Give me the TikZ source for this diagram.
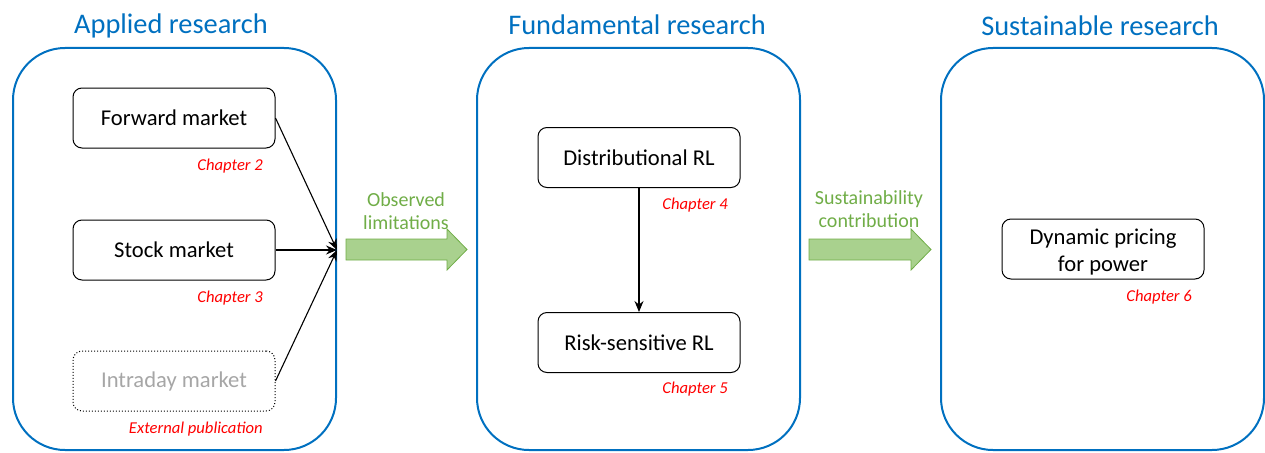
\documentclass[tikz,border=0pt]{standalone}
\usepackage{fontspec}
\setmainfont{Carlito}
\usetikzlibrary{arrows.meta}
\definecolor{panelblue}{HTML}{0070C0}
\definecolor{chapred}{HTML}{FF0000}
\definecolor{arrowfill}{HTML}{A9D18E}
\definecolor{arrowline}{HTML}{70AD47}
\definecolor{fadegray}{HTML}{A6A6A6}
\tikzset{
  panel/.style={draw=panelblue, line width=2pt, rounded corners=52pt,
    minimum width=323pt, minimum height=402pt, inner sep=0pt},
  paneltitle/.style={text=panelblue, font=\fontsize{28.4}{32}\selectfont, inner sep=0pt},
  topic/.style={draw=black, line width=1pt, rounded corners=9pt,
    minimum width=202pt, minimum height=60pt, inner sep=0pt, align=center,
    font=\fontsize{22.6}{27}\selectfont},
  faded/.style={topic, draw=black, dotted, text=fadegray},
  chapter/.style={text=chapred, font=\fontsize{16.6}{19}\selectfont\itshape,
    inner sep=0pt, anchor=east},
  flowlabel/.style={text=arrowline, font=\fontsize{20}{23}\selectfont,
    align=center, inner sep=0pt},
  bigarrow/.style={fill=arrowfill, draw=arrowline, line width=0.8pt},
  link/.style={draw=black, line width=1.1pt, -{Stealth[length=11pt,width=9pt]}}
}
\begin{document}
\begin{tikzpicture}[x=1pt,y=-1pt]
\useasboundingbox (0,0) rectangle (1265,452);

% three research panels
\node[panel] (applied) at (174.5,249) {};
\node[panel] (fund)    at (638.5,249) {};
\node[panel] (sust)    at (1102.5,249) {};
\node[paneltitle] (appliedT) at (171,26) {Applied research};
\node[paneltitle] (fundT)    at (637,25) {Fundamental research};
\node[paneltitle] (sustT)    at (1100,26) {Sustainable research};

% applied research topics
\node[topic] (fwd)   at (174,118) {Forward market};
\node[topic] (stock) at (174,250) {Stock market};
\node[faded] (intra) at (174,381) {Intraday market};
\node[chapter] (c2) at (263,166.5) {Chapter 2};
\node[chapter] (c3) at (263,298.5) {Chapter 3};
\node[chapter] (ext) at (263,429.5) {External publication};

\coordinate (join) at (337,250);
\draw[link] (fwd.east) -- (join);
\draw[link] (stock.east) -- (join);
\draw[link] (intra.east) -- (join);

% fundamental research topics
\node[topic] (dist) at (639,157.5) {Distributional RL};
\node[topic] (risk) at (639,342.5) {Risk-sensitive RL};
\node[chapter] (c4) at (728,205.5) {Chapter 4};
\node[chapter] (c5) at (728,389.5) {Chapter 5};
\draw[link] (dist) -- (risk);

% sustainable research topic
\node[topic] (dyn) at (1103,249)
  {\raisebox{-4pt}[\height][\depth]{\begin{tabular}{@{}c@{}}Dynamic pricing\\for power\end{tabular}}};
\node[chapter] (c6) at (1192,297.5) {Chapter 6};

% transition arrows between panels
\draw[bigarrow] (346,239) -- (447,239) -- (447,229) -- (467,249.5)
  -- (447,270) -- (447,260) -- (346,260) -- cycle;
\draw[bigarrow] (809,239) -- (911,239) -- (911,229) -- (931,249.5)
  -- (911,270) -- (911,260) -- (809,260) -- cycle;
\node[flowlabel] (obs) at (406,211) {Observed\\limitations};
\node[flowlabel] (con) at (869,209) {Sustainability\\contribution};
\end{tikzpicture}
\end{document}
